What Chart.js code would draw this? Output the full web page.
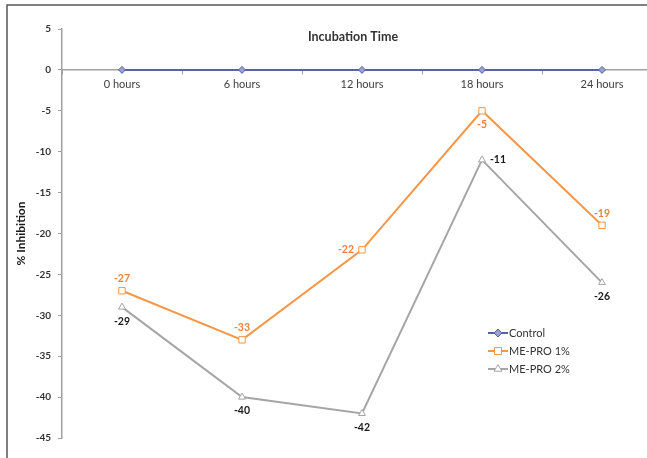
<!DOCTYPE html>
<html>
<head>
<meta charset="utf-8">
<script src="https://cdn.jsdelivr.net/npm/chart.js@4.4.1/dist/chart.umd.min.js"></script>
<style>
  html, body { margin: 0; padding: 0; background: #fff; overflow: hidden; width: 647px; height: 458px; }
  #wrap { position: absolute; left: 0; top: 0; width: 690px; height: 458px; }
</style>
</head>
<body>
<div id="wrap"><canvas id="c" width="690" height="458"></canvas></div>
<script>
// Inhibition over incubation time
const categories = ['0 hours', '6 hours', '12 hours', '18 hours', '24 hours'];
const controlValues = [0, 0, 0, 0, 0];
const mePro1Values = [-27, -33, -22, -5, -19];
const mePro2Values = [-29, -40, -42, -11, -26];
const yMin = -45;
const yMax = 5;
const yStep = 5;

const FONT = 'Lato, "Liberation Sans", sans-serif';

// Frame around the whole chart
const framePlugin = {
  id: 'frame',
  beforeDraw(chart) {
    const ctx = chart.ctx;
    ctx.save();
    ctx.fillStyle = '#fff';
    ctx.fillRect(0, 0, chart.width, chart.height);
    ctx.strokeStyle = '#555';
    ctx.lineWidth = 1.5;
    ctx.strokeRect(7, 5, chart.width + 20, chart.height + 20);
    ctx.restore();
  }
};

// Chart title drawn inside the plot area
const innerTitlePlugin = {
  id: 'innerTitle',
  afterDraw(chart) {
    const ctx = chart.ctx;
    ctx.save();
    ctx.font = 'bold 12.5px ' + FONT;
    ctx.fillStyle = '#333';
    ctx.textAlign = 'center';
    ctx.textBaseline = 'middle';
    ctx.fillText('Incubation Time', 353, 37);
    ctx.restore();
  }
};

// Value labels next to each point
const valueLabelPlugin = {
  id: 'valueLabels',
  afterDatasetsDraw(chart) {
    const ctx = chart.ctx;
    ctx.save();
    ctx.font = 'bold 10.5px ' + FONT;
    ctx.textAlign = 'center';
    ctx.textBaseline = 'middle';
    chart.data.datasets.forEach((ds, di) => {
      if (!ds.labelPlace) return;
      const meta = chart.getDatasetMeta(di);
      ctx.fillStyle = ds.labelColor;
      meta.data.forEach((pt, i) => {
        const place = ds.labelPlace[i];
        let dx = 0, dy = 0;
        if (place === 'above') dy = -12;
        else if (place === 'below') dy = 14;
        else if (place === 'left') dx = -16;
        else if (place === 'right') dx = 16;
        ctx.fillText(String(ds.data[i]), pt.x + dx, pt.y + dy);
      });
    });
    ctx.restore();
  }
};

// Legend placed inside the plot area, lower right
const innerLegendPlugin = {
  id: 'innerLegend',
  afterDraw(chart) {
    const ctx = chart.ctx;
    const x0 = 488, x1 = 508, startY = 333, rowH = 18;
    ctx.save();
    chart.data.datasets.forEach((ds, i) => {
      const y = startY + i * rowH;
      ctx.strokeStyle = ds.borderColor;
      ctx.lineWidth = 2;
      ctx.beginPath();
      ctx.moveTo(x0, y);
      ctx.lineTo(x1, y);
      ctx.stroke();
      ctx.fillStyle = ds.pointBackgroundColor;
      ctx.strokeStyle = ds.pointBorderColor;
      ctx.lineWidth = 1;
      Chart.helpers.drawPoint(ctx, {
        pointStyle: ds.pointStyle,
        radius: ds.pointRadius + 0.5,
        borderWidth: 1,
        rotation: 0
      }, (x0 + x1) / 2, y);
      ctx.fillStyle = '#333';
      ctx.font = '11px ' + FONT;
      ctx.textAlign = 'left';
      ctx.textBaseline = 'middle';
      ctx.fillText(ds.label, x1 + 1, y);
    });
    ctx.restore();
  }
};

new Chart(document.getElementById('c'), {
  type: 'line',
  data: {
    labels: categories,
    datasets: [
      {
        label: 'Control',
        data: controlValues,
        borderColor: '#5A62A6',
        backgroundColor: '#5A62A6',
        borderWidth: 2,
        pointStyle: 'rectRot',
        pointRadius: 3.5,
        pointBackgroundColor: '#9AA0D0',
        pointBorderColor: '#5A62A6',
        pointBorderWidth: 1,
        tension: 0
      },
      {
        label: 'ME-PRO 1%',
        data: mePro1Values,
        borderColor: '#F79646',
        backgroundColor: '#F79646',
        borderWidth: 2,
        pointStyle: 'rect',
        pointRadius: 4.5,
        pointBackgroundColor: '#fff',
        pointBorderColor: '#F79646',
        pointBorderWidth: 1,
        tension: 0,
        labelColor: '#F07F3C',
        labelPlace: ['above', 'above', 'left', 'below', 'above']
      },
      {
        label: 'ME-PRO 2%',
        data: mePro2Values,
        borderColor: '#A5A5A5',
        backgroundColor: '#A5A5A5',
        borderWidth: 2,
        pointStyle: 'triangle',
        pointRadius: 4,
        pointBackgroundColor: '#fff',
        pointBorderColor: '#A5A5A5',
        pointBorderWidth: 1,
        tension: 0,
        labelColor: '#1a1a1a',
        labelPlace: ['below', 'below', 'below', 'right', 'below']
      }
    ]
  },
  options: {
    responsive: false,
    animation: false,
    devicePixelRatio: 1,
    layout: { padding: { top: 29, bottom: 20, left: 0, right: 28 } },
    plugins: {
      legend: { display: false },
      title: { display: false },
      tooltip: { enabled: false }
    },
    scales: {
      x: {
        type: 'category',
        position: { y: 0 },
        offset: true,
        grid: {
          offset: true,
          drawOnChartArea: false,
          drawTicks: true,
          tickLength: 4,
          color: '#A0A0A0'
        },
        border: { color: '#A0A0A0', width: 1.5 },
        ticks: {
          color: '#404040',
          font: { family: FONT, size: 11 },
          padding: 4,
          maxRotation: 0
        }
      },
      y: {
        position: 'left',
        min: yMin,
        max: yMax,
        afterFit(scale) { scale.width = 62; },
        grid: {
          drawOnChartArea: false,
          drawTicks: true,
          tickLength: 4,
          color: '#A0A0A0'
        },
        border: { color: '#A0A0A0', width: 1.5 },
        ticks: {
          stepSize: yStep,
          color: '#333',
          font: { family: FONT, size: 10, weight: 'bold' },
          padding: 7
        },
        title: {
          display: true,
          text: '% Inhibition',
          color: '#1a1a1a',
          font: { family: FONT, size: 12, weight: 'bold' },
          padding: { top: 14, bottom: 0 }
        }
      }
    }
  },
  plugins: [framePlugin, innerTitlePlugin, valueLabelPlugin, innerLegendPlugin]
});
</script>
</body>
</html>
